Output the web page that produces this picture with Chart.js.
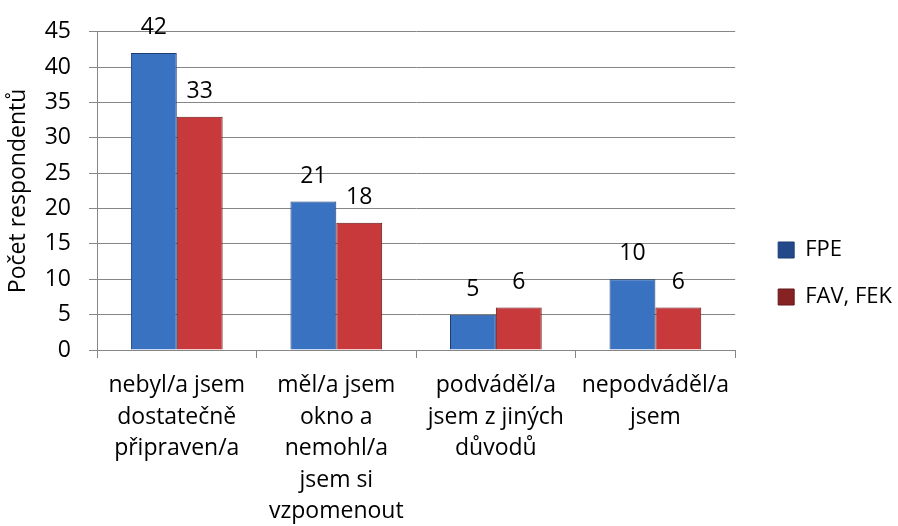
<!DOCTYPE html>
<html lang="cs">
<head>
<meta charset="UTF-8">
<title>Počet respondentů</title>
<script src="https://cdn.jsdelivr.net/npm/chart.js@4.4.1/dist/chart.umd.min.js"></script>
<style>
  html, body { margin: 0; padding: 0; background: #fff; }
  #wrap { width: 898px; height: 526px; }
</style>
</head>
<body>
<div id="wrap"><canvas id="chart" width="898" height="526"></canvas></div>
<script>
// data
var categories = [
    ['nebyl/a jsem', 'dostatečně', 'připraven/a'],
    ['měl/a jsem', 'okno a', 'nemohl/a', 'jsem si', 'vzpomenout'],
    ['podváděl/a', 'jsem z jiných', 'důvodů'],
    ['nepodváděl/a', 'jsem']
];
var fpe = [42, 21, 5, 10];
var favFek = [33, 18, 6, 6];
var yTicks = [0, 5, 10, 15, 20, 25, 30, 35, 40, 45];

var FONT = '"Open Sans", sans-serif';

// horizontal gradient to fake the bevelled Excel bars
function barFill(dark, mid, light) {
    return function (ctx) {
        var el = ctx.element;
        var chart = ctx.chart;
        if (!el || !chart.chartArea || !isFinite(el.x) || !isFinite(el.width)) return mid;
        var x0 = el.x - el.width / 2, x1 = el.x + el.width / 2;
        var g = chart.ctx.createLinearGradient(x0, 0, x1, 0);
        g.addColorStop(0, dark);
        g.addColorStop(0.12, mid);
        g.addColorStop(0.5, light);
        g.addColorStop(0.88, mid);
        g.addColorStop(1, dark);
        return g;
    };
}

// value labels above bars
var valueLabels = {
    id: 'valueLabels',
    afterDatasetsDraw: function (chart) {
        var c = chart.ctx;
        c.save();
        c.fillStyle = '#000';
        c.font = '23px ' + FONT;
        c.textAlign = 'center';
        c.textBaseline = 'alphabetic';
        chart.data.datasets.forEach(function (ds, i) {
            chart.getDatasetMeta(i).data.forEach(function (bar, j) {
                c.fillText(ds.data[j], bar.x, bar.y - 19);
            });
        });
        c.restore();
    }
};

// legend sits a bit further right of the plot in the original
var legendShift = {
    id: 'legendShift',
    afterLayout: function (chart) {
        if (chart.legend) {
            chart.legend.left += 18;
            chart.legend.right += 18;
        }
    }
};

var ctx = document.getElementById('chart').getContext('2d');
var chart = new Chart(ctx, {
    type: 'bar',
    data: {
        labels: categories,
        datasets: [{
            label: 'FPE',
            data: fpe,
            backgroundColor: barFill('#23498a', '#3a72c2', '#4b86d8'),
            borderColor: '#1d3c70',
            borderWidth: 1
        }, {
            label: 'FAV, FEK',
            data: favFek,
            backgroundColor: barFill('#862224', '#c8393c', '#da4c4e'),
            borderColor: '#651719',
            borderWidth: 1
        }]
    },
    options: {
        responsive: false,
        animation: false,
        events: [],
        layout: { padding: { top: 21, left: 5, right: 14, bottom: 0 } },
        datasets: { bar: { categoryPercentage: 0.575, barPercentage: 1 } },
        scales: {
            x: {
                afterFit: function (axis) { axis.height = 176; },
                grid: { display: true, drawOnChartArea: false, color: '#868686', tickLength: 8 },
                border: { color: '#868686', width: 1 },
                ticks: {
                    color: '#000',
                    font: { family: FONT, size: 23, lineHeight: 1.37 },
                    maxRotation: 0,
                    padding: 12
                }
            },
            y: {
                min: 0,
                max: 45,
                afterBuildTicks: function (axis) {
                    axis.ticks = yTicks.map(function (v) { return { value: v }; });
                },
                afterFit: function (axis) { axis.width = 92; },
                grid: { color: '#868686', lineWidth: 1, tickLength: 8 },
                border: { color: '#868686', width: 1 },
                ticks: {
                    color: '#000',
                    font: { family: FONT, size: 23 },
                    padding: 18
                },
                title: {
                    display: true,
                    text: 'Počet respondentů',
                    color: '#000',
                    font: { family: FONT, size: 23 },
                    padding: { top: 0, bottom: 12 }
                }
            }
        },
        plugins: {
            legend: {
                position: 'right',
                labels: {
                    color: '#000',
                    font: { family: FONT, size: 22 },
                    boxWidth: 16,
                    boxHeight: 16,
                    padding: 25
                }
            },
            tooltip: { enabled: false }
        }
    },
    plugins: [valueLabels, legendShift]
});
</script>
</body>
</html>
